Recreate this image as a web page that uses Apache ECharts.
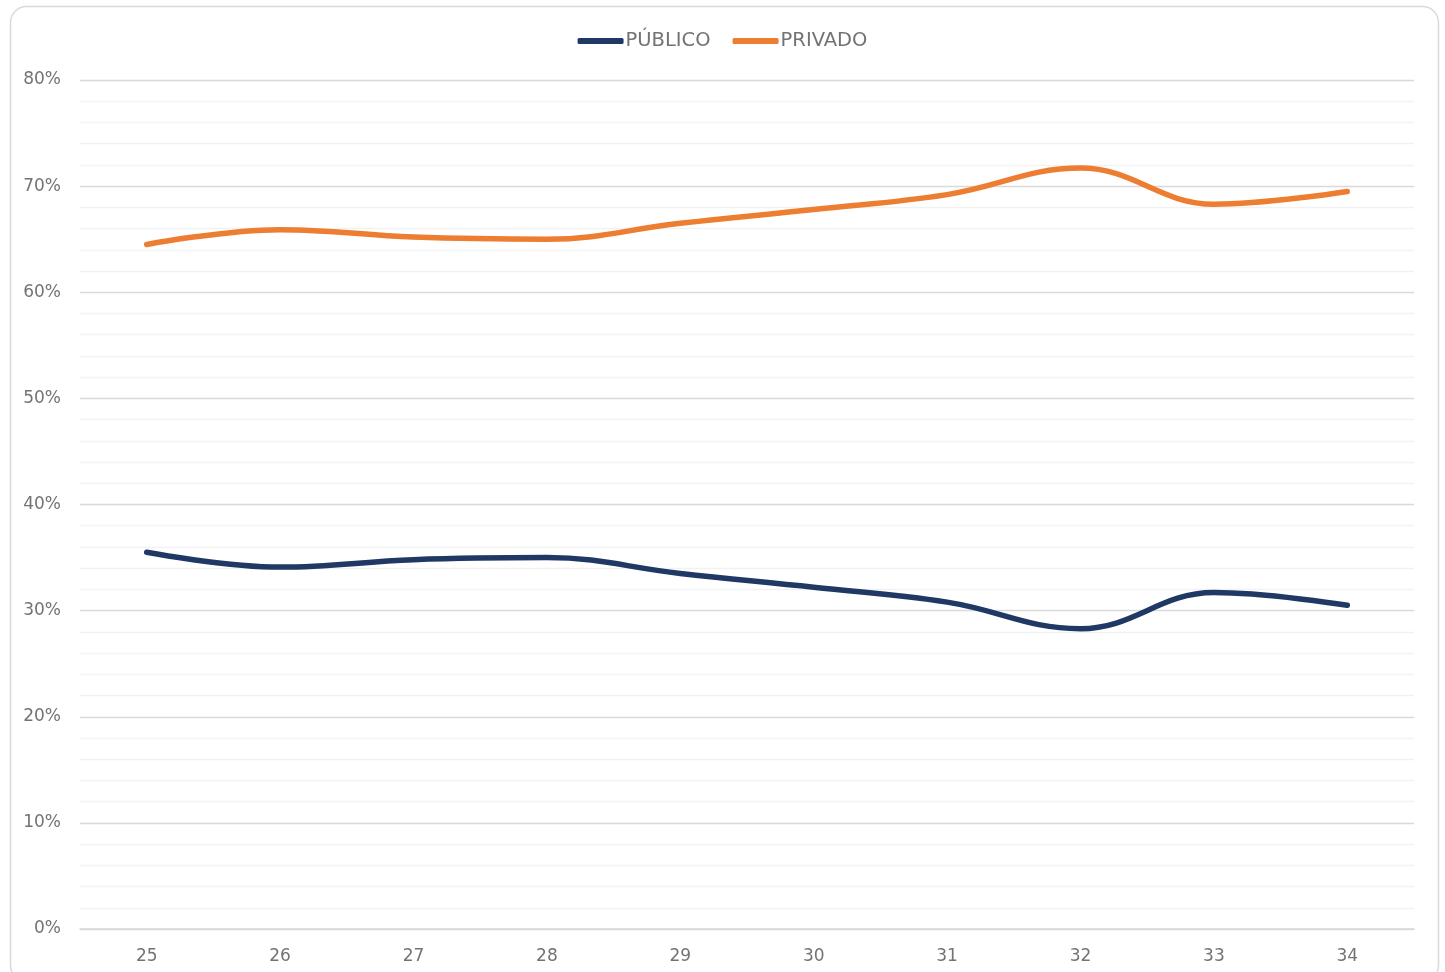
<!DOCTYPE html>
<html>
<head>
<meta charset="utf-8">
<script src="https://cdn.jsdelivr.net/npm/echarts@6/dist/echarts.min.js"></script>
<style>
html,body{margin:0;padding:0;background:#fff;}
#c{width:1445px;height:972px;}
</style>
</head>
<body>
<div id="c"></div>
<script>
const categories = ['25','26','27','28','29','30','31','32','33','34'];
const publico = [35.5, 34.1, 34.8, 35.0, 33.5, 32.2, 30.8, 28.3, 31.7, 30.5];
const privado = [64.5, 65.9, 65.2, 65.0, 66.5, 67.8, 69.2, 71.7, 68.3, 69.5];
const yTicks = [0, 10, 20, 30, 40, 50, 60, 70, 80];

const chart = echarts.init(document.getElementById('c'), null, {renderer: 'canvas'});
const font = '"DejaVu Sans", "Noto Sans", sans-serif';
const grey = '#737373';
chart.setOption({
  animation: false,
  graphic: [{
    type: 'rect',
    shape: {x: 10.5, y: 6.5, width: 1428, height: 975, r: 16},
    style: {fill: 'none', stroke: '#d9d9d9', lineWidth: 1.5},
    silent: true, z: -10
  }],
  legend: {
    top: 26,
    left: 'center',
    itemWidth: 46,
    itemHeight: 6,
    itemGap: 22,
    icon: 'roundRect',
    textStyle: {color: grey, fontSize: 19.5, fontFamily: font, padding: [0,0,0,-3]},
    data: ['PÚBLICO', 'PRIVADO']
  },
  grid: {left: 80, right: 31, top: 80, bottom: 43, containLabel: false},
  xAxis: {
    type: 'category',
    data: categories,
    boundaryGap: true,
    axisLine: {lineStyle: {color: '#d9d9d9', width: 1.5}},
    axisTick: {show: false},
    axisLabel: {color: grey, fontSize: 17, fontFamily: font, margin: 19}
  },
  yAxis: {
    type: 'value',
    min: yTicks[0],
    max: yTicks[yTicks.length - 1],
    interval: 10,
    axisLine: {show: false},
    axisTick: {show: false},
    axisLabel: {color: grey, fontSize: 17, fontFamily: font, margin: 19, formatter: v => v + '%'},
    splitLine: {lineStyle: {color: '#d9d9d9', width: 1.3}},
    minorTick: {show: false, splitNumber: 5},
    minorSplitLine: {show: true, lineStyle: {color: '#f2f2f2', width: 1.3}}
  },
  series: [{
    name: 'PÚBLICO',
    type: 'line',
    data: publico,
    smooth: 0.4,
    symbol: 'none',
    lineStyle: {color: '#203864', width: 5.5, cap: 'round'},
    itemStyle: {color: '#203864'}
  }, {
    name: 'PRIVADO',
    type: 'line',
    data: privado,
    smooth: 0.4,
    symbol: 'none',
    lineStyle: {color: '#ED7D31', width: 5.5, cap: 'round'},
    itemStyle: {color: '#ED7D31'}
  }]
});
</script>
</body>
</html>
